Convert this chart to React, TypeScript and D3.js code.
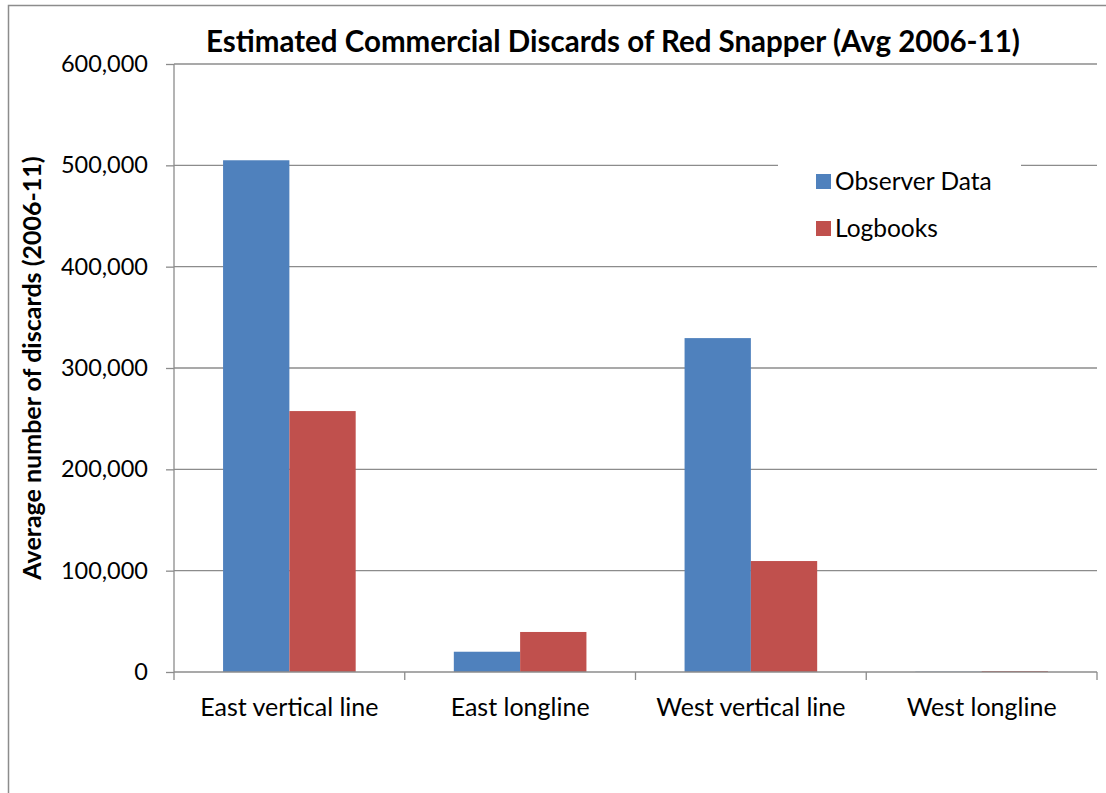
import { useRef, useEffect } from 'react';
import * as d3 from 'd3';

const categories = ['East vertical line', 'East longline', 'West vertical line', 'West longline'];
const seriesNames = ['Observer Data', 'Logbooks'];
const observerValues = [505000, 20000, 329500, 300];
const logbookValues = [257500, 39500, 109500, 900];
const yTicks = [0, 100000, 200000, 300000, 400000, 500000, 600000];
const colors = ['#4F81BD', '#C0504D'];

export default function App() {
  const svgRef = useRef<SVGSVGElement>(null);
  const width = 1106;
  const height = 793;

  useEffect(() => {
    const svg = d3.select(svgRef.current);
    if (svg.empty()) return;
    svg.selectAll('*').remove();

    const font = 'Lato, Open Sans, sans-serif';
    const margin = { top: 64, right: 9, bottom: 121, left: 174 };
    const innerWidth = width - margin.left - margin.right;
    const innerHeight = height - margin.top - margin.bottom;

    // Outer frame
    svg.append('rect')
      .attr('x', 8.5).attr('y', 5.5)
      .attr('width', width + 20).attr('height', height + 20)
      .attr('fill', 'white')
      .attr('stroke', '#8c8c8c')
      .attr('stroke-width', 1.5);

    const g = svg.append('g').attr('transform', `translate(${margin.left},${margin.top})`);

    const x0 = d3.scaleBand().domain(categories).range([0, innerWidth]).paddingInner(0).paddingOuter(0);
    const x1 = d3.scaleBand().domain(seriesNames).range([0, x0.bandwidth()]).paddingInner(0).paddingOuter(0.74);
    const y = d3.scaleLinear().domain([0, 600000]).range([innerHeight, 0]);

    // Gridlines
    g.append('g')
      .selectAll('line')
      .data(yTicks.slice(1))
      .join('line')
      .attr('x1', 0).attr('x2', innerWidth)
      .attr('y1', d => y(d)).attr('y2', d => y(d))
      .attr('stroke', '#8c8c8c')
      .attr('stroke-width', 1.3);

    // Bars
    const data = categories.map((c, i) => ({ cat: c, vals: [observerValues[i], logbookValues[i]] }));
    g.append('g')
      .selectAll('g')
      .data(data)
      .join('g')
      .attr('transform', d => `translate(${x0(d.cat)},0)`)
      .selectAll('rect')
      .data(d => d.vals.map((v, j) => ({ name: seriesNames[j], v, j })))
      .join('rect')
      .attr('x', d => x1(d.name)!)
      .attr('width', x1.bandwidth())
      .attr('y', d => y(d.v))
      .attr('height', d => innerHeight - y(d.v))
      .attr('fill', d => colors[d.j]);

    // Y axis
    const yAxis = d3.axisLeft(y).tickValues(yTicks).tickSize(8).tickFormat(d3.format(',') as any);
    const ya = g.append('g').call(yAxis);
    ya.select('.domain').attr('stroke', '#8c8c8c').attr('stroke-width', 1.3).attr('d', `M0,0V${innerHeight}`);
    ya.selectAll('.tick line').attr('stroke', '#8c8c8c').attr('stroke-width', 1.3);
    ya.selectAll('.tick text')
      .attr('x', -26)
      .attr('font-size', '23.5px')
      .attr('font-family', font)
      .attr('fill', '#000');

    // X axis
    const xa = g.append('g').attr('transform', `translate(0,${innerHeight})`);
    xa.append('line')
      .attr('x1', 0).attr('x2', innerWidth)
      .attr('stroke', '#8c8c8c').attr('stroke-width', 1.5);
    xa.selectAll('.xt')
      .data(d3.range(categories.length + 1))
      .join('line')
      .attr('class', 'xt')
      .attr('x1', i => i * x0.bandwidth()).attr('x2', i => i * x0.bandwidth())
      .attr('y1', 0).attr('y2', 8)
      .attr('stroke', '#8c8c8c').attr('stroke-width', 1.3);
    xa.selectAll('text')
      .data(categories)
      .join('text')
      .attr('x', d => x0(d)! + x0.bandwidth() / 2)
      .attr('y', 44)
      .attr('text-anchor', 'middle')
      .attr('font-size', '25px')
      .attr('font-family', font)
      .attr('fill', '#000')
      .text(d => d);

    // Title
    svg.append('text')
      .attr('x', 613)
      .attr('y', 52)
      .attr('text-anchor', 'middle')
      .attr('font-size', '29.5px')
      .attr('font-weight', 'bold')
      .attr('font-family', font)
      .attr('fill', '#000')
      .text('Estimated Commercial Discards of Red Snapper (Avg 2006-11)');

    // Y label
    svg.append('text')
      .attr('transform', 'translate(41,368) rotate(-90)')
      .attr('text-anchor', 'middle')
      .attr('font-size', '25px')
      .attr('font-weight', 'bold')
      .attr('font-family', font)
      .attr('fill', '#000')
      .text('Average number of discards (2006-11)');

    // Legend
    const lg = svg.append('g').attr('transform', 'translate(778,152)');
    lg.append('rect').attr('width', 243).attr('height', 104).attr('fill', 'white');
    seriesNames.forEach((name, i) => {
      lg.append('rect')
        .attr('x', 38).attr('y', 22 + i * 47)
        .attr('width', 15).attr('height', 15)
        .attr('fill', colors[i]);
      lg.append('text')
        .attr('x', 57).attr('y', 38 + i * 47)
        .attr('font-size', '24.5px')
        .attr('font-family', font)
        .attr('fill', '#000')
        .text(name);
    });
  }, []);

  return (
    <svg
      ref={svgRef}
      width={width}
      height={height}
      style={{ position: 'absolute', left: 0, top: 0, background: 'white' }}
    />
  );
}
